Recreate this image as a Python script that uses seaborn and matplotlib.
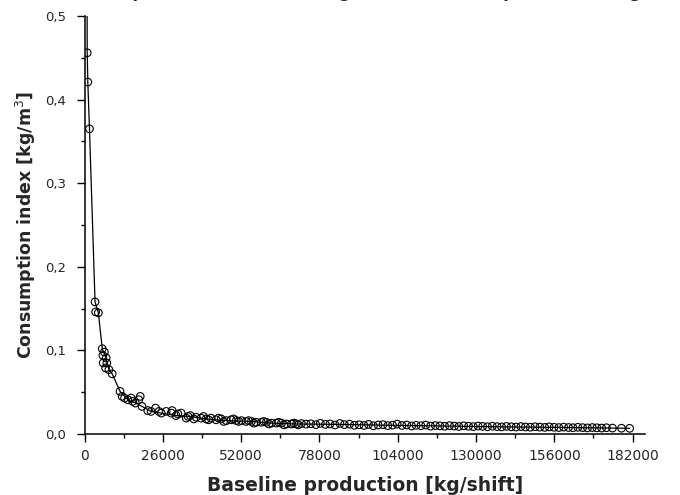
import numpy as np
import pandas as pd
import matplotlib
matplotlib.use("Agg")
import matplotlib.pyplot as plt
from matplotlib.ticker import MultipleLocator, FuncFormatter
import seaborn as sns

# Measured points: baseline production [kg/shift] vs consumption index [kg/m3]
prod_kg = [
    900, 1100, 1650, 3500, 3700, 4600, 5900, 6100, 6200, 6600, 7000, 7200, 7400,
    8100, 9200, 11800, 12500, 13300, 14400, 15500, 16000, 16900, 18000, 18500,
    19100, 21000, 22100, 23600, 24700, 25500, 27100, 28800, 29100, 30400, 31000,
    32100, 33800, 34400, 35100, 36300, 37100, 38700, 39500, 40400, 41200, 42000,
    43700, 44500, 45400, 46200, 47100, 48700, 49500, 50400, 51200, 52100, 53700,
    54500, 55400, 56200, 57000, 58700, 59500, 60400, 61200, 62100, 63700, 64500,
    65400, 66200, 67100, 68700, 69500, 70400, 71000, 72000, 73600, 75100, 76800,
    78300, 80000, 81500, 83200, 84800, 86300, 88000, 89600, 91200, 92800, 94300,
    95900, 97500, 99100, 100700, 102300, 103800, 105400, 107000, 108600, 110100,
    111700, 113300, 114900, 116500, 118000, 119600, 121200, 122800, 124300,
    125900, 127500, 129100, 130700, 132200, 133800, 135400, 137000, 138500,
    140100, 141700, 143300, 144900, 146400, 148000, 149600, 151200, 152800,
    154300, 155900, 157500, 159100, 160700, 162200, 163800, 165400, 167000,
    168600, 170100, 171700, 173300, 175300, 178300, 181000,
]
index_kg_m3 = [
    0.456, 0.421, 0.365, 0.158, 0.146, 0.145, 0.102, 0.094, 0.085, 0.098, 0.079,
    0.091, 0.085, 0.077, 0.072, 0.051, 0.045, 0.043, 0.041, 0.043, 0.039, 0.037,
    0.041, 0.045, 0.033, 0.028, 0.027, 0.031, 0.027, 0.025, 0.027, 0.025, 0.028,
    0.022, 0.024, 0.025, 0.019, 0.021, 0.022, 0.018, 0.020, 0.019, 0.021, 0.018,
    0.017, 0.019, 0.017, 0.019, 0.018, 0.015, 0.016, 0.017, 0.018, 0.016, 0.015,
    0.016, 0.015, 0.016, 0.015, 0.013, 0.014, 0.014, 0.015, 0.014, 0.012, 0.013,
    0.013, 0.014, 0.013, 0.011, 0.012, 0.012, 0.013, 0.012, 0.011, 0.0125,
    0.0118, 0.0122, 0.0112, 0.0128, 0.0115, 0.0120, 0.0108, 0.0126, 0.0112,
    0.0118, 0.0104, 0.0110, 0.0102, 0.0115, 0.0098, 0.0108, 0.0112, 0.0100,
    0.0106, 0.0118, 0.0102, 0.0108, 0.0096, 0.0104, 0.0099, 0.0107, 0.0094,
    0.0101, 0.0097, 0.0092, 0.0100, 0.0095, 0.0090, 0.0098, 0.0093, 0.0088,
    0.0095, 0.0091, 0.0087, 0.0093, 0.0088, 0.0085, 0.0091, 0.0086, 0.0083,
    0.0089, 0.0084, 0.0081, 0.0087, 0.0082, 0.0079, 0.0085, 0.0080, 0.0077,
    0.0082, 0.0078, 0.0075, 0.0080, 0.0076, 0.0073, 0.0077, 0.0074, 0.0071,
    0.0075, 0.0071, 0.0069, 0.0068,
]

# Trend line through the measurements
curve_kg = [
    800, 900, 1100, 1650, 3500, 4600, 5900, 7200, 8100, 9200, 11800, 14400,
    16900, 19100, 22100, 25500, 30400, 35100, 40400, 47100, 55400, 62100,
    70400, 85000, 100000, 120000, 140000, 160000, 181000,
]
curve_index = [
    0.600, 0.456, 0.421, 0.365, 0.158, 0.145, 0.102, 0.091, 0.077, 0.072, 0.051,
    0.041, 0.037, 0.033, 0.027, 0.025, 0.022, 0.021, 0.018, 0.016, 0.015, 0.013,
    0.012, 0.0115, 0.0105, 0.0095, 0.0085, 0.0078, 0.0068,
]

x_ticks = [0, 26000, 52000, 78000, 104000, 130000, 156000, 182000]
y_ticks = [0.0, 0.1, 0.2, 0.3, 0.4, 0.5]

points = pd.DataFrame({"prod": prod_kg, "index": index_kg_m3})
curve = pd.DataFrame({"prod": curve_kg, "index": curve_index})

sns.set_style("ticks")
plt.rcParams["font.family"] = ["DejaVu Sans"]

fig = plt.figure(figsize=(6.8, 4.95), dpi=100)
ax = fig.add_axes([84.5 / 680, 1 - 434 / 495, 560.5 / 680, 418 / 495])

sns.lineplot(data=curve, x="prod", y="index", estimator=None, sort=False,
             color="black", linewidth=0.9, ax=ax)
sns.scatterplot(data=points, x="prod", y="index", marker="o", s=30,
                facecolor="none", edgecolor="black", linewidth=0.8, ax=ax)

ax.set_xlim(0, 186100)
ax.set_ylim(0, 0.5)
ax.set_xticks(x_ticks)
ax.set_yticks(y_ticks)
ax.xaxis.set_minor_locator(MultipleLocator(13000))
ax.yaxis.set_minor_locator(MultipleLocator(0.05))
ax.yaxis.set_major_formatter(FuncFormatter(lambda v, p: f"{v:.1f}".replace(".", ",")))
ax.xaxis.set_major_formatter(FuncFormatter(lambda v, p: f"{int(round(v))}"))

ax.tick_params(axis="both", which="major", length=6, width=1, direction="out", color="black")
ax.tick_params(axis="both", which="minor", length=3, width=1, direction="out", color="black")
ax.tick_params(axis="y", which="major", labelsize=9.5, pad=7)
ax.tick_params(axis="x", which="major", labelsize=10, pad=5)

sns.despine(ax=ax)
for side in ("left", "bottom"):
    ax.spines[side].set_linewidth(1.1)
    ax.spines[side].set_color("black")

ax.set_xlabel("Baseline production [kg/shift]", fontsize=13.5, fontweight="bold", labelpad=9)
ax.set_ylabel("Consumption index [kg/m$^3$]", fontsize=12.5, fontweight="bold", labelpad=5)

fig.text(0.52, 1 + 3.3 / 495, "Consumption (index) according to the baseline production (kg)",
         ha="center", va="baseline", fontsize=12, fontweight="bold")

fig.savefig("out.png", dpi=100)
